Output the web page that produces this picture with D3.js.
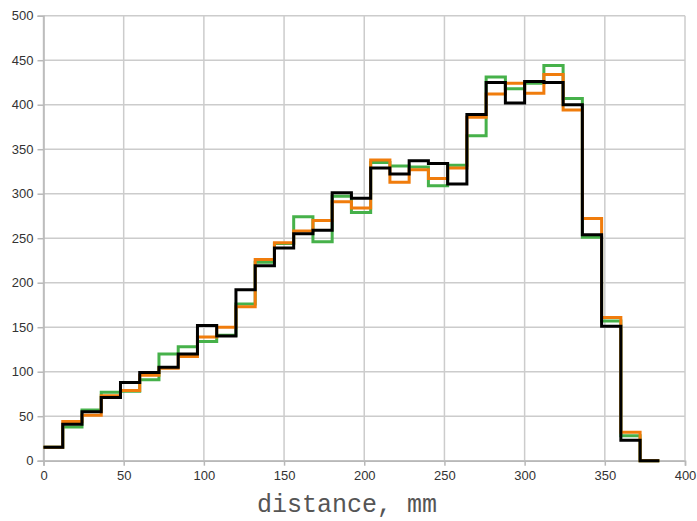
<!DOCTYPE html>
<html><head><meta charset="utf-8">
<script src="https://cdn.jsdelivr.net/npm/d3@7"></script>
<style>body{margin:0;background:#fff}svg{display:block}</style>
</head><body>
<svg id="chart" width="697" height="521"></svg>
<script>
const binStarts = [0,12,24,36,48,60,72,84,96,108,120,132,144,156,168,180,192,204,216,228,240,252,264,276,288,300,312,324,336,348,360,372];
const binWidth = 12;
const greenValues  = [15,38,57,77,78,91,120,128,134,141,176,223,244,274,246,297,279,335,331,330,309,332,365,431,418,424,444,407,251,157,28,0];
const orangeValues = [15,44,51,73,79,96,104,117,139,150,173,226,245,258,270,291,284,338,313,327,317,329,386,412,424,413,434,394,272,161,32,0];
const blackValues  = [15,41,55,71,88,99,105,120,152,140,192,219,239,255,259,301,295,329,322,337,334,311,389,425,402,426,425,400,254,151,23,0];
const xTicks = [0,50,100,150,200,250,300,350,400];
const yTicks = [0,50,100,150,200,250,300,350,400,450,500];
const xTitle = "distance, mm";

const svg = d3.select("#chart");
const L = 43.5, R = 685, T = 15.7, B = 460.7;
const x = d3.scaleLinear().domain([0,400]).range([L,R]);
const y = d3.scaleLinear().domain([0,500]).range([B,T]);

const gridColor = "#cccccc";
// grid
svg.append("g").selectAll("line").data(xTicks).join("line")
  .attr("x1", d=>x(d)).attr("x2", d=>x(d)).attr("y1", T).attr("y2", B)
  .attr("stroke", gridColor).attr("stroke-width", 1.5);
svg.append("g").selectAll("line").data(yTicks).join("line")
  .attr("x1", L).attr("x2", R).attr("y1", d=>y(d)).attr("y2", d=>y(d))
  .attr("stroke", gridColor).attr("stroke-width", 1.5);

// axes
const xAxis = d3.axisBottom(x).tickValues(xTicks).tickSize(5).tickPadding(5);
const yAxis = d3.axisLeft(y).tickValues(yTicks).tickSize(6).tickPadding(4);
const gx = svg.append("g").attr("transform", `translate(0,${B})`).call(xAxis);
const gy = svg.append("g").attr("transform", `translate(${L},0)`).call(yAxis);
[gx, gy].forEach(g => {
  g.select(".domain").attr("stroke", "#b8b8b8").attr("stroke-width", 1.5);
  g.selectAll(".tick line").attr("stroke", "#b8b8b8").attr("stroke-width", 1.5);
  g.selectAll(".tick text").attr("fill", "#333").style("font-family", "'Liberation Sans', Arial, sans-serif").style("font-size", "13px");
});

// step lines
const line = d3.line().curve(d3.curveStepAfter).x(d=>x(d[0])).y(d=>y(d[1]));
function pts(vals){
  const p = binStarts.map((s,i)=>[s, vals[i]]);
  p.push([binStarts[binStarts.length-1] + binWidth, vals[vals.length-1]]);
  return p;
}
const series = [
  {vals: greenValues, color: "#46b14a"},
  {vals: orangeValues, color: "#f07c0c"},
  {vals: blackValues, color: "#000000"}
];
svg.append("g").selectAll("path").data(series).join("path")
  .attr("d", d=>line(pts(d.vals)))
  .attr("fill", "none").attr("stroke", d=>d.color).attr("stroke-width", 3)
  .attr("stroke-linejoin", "miter");

svg.append("text").attr("x", 347).attr("y", 512).attr("text-anchor", "middle")
  .attr("fill", "#555").style("font-family", "'Liberation Mono', 'DejaVu Sans Mono', monospace")
  .style("font-size", "25px").text(xTitle);
</script>
</body></html>
